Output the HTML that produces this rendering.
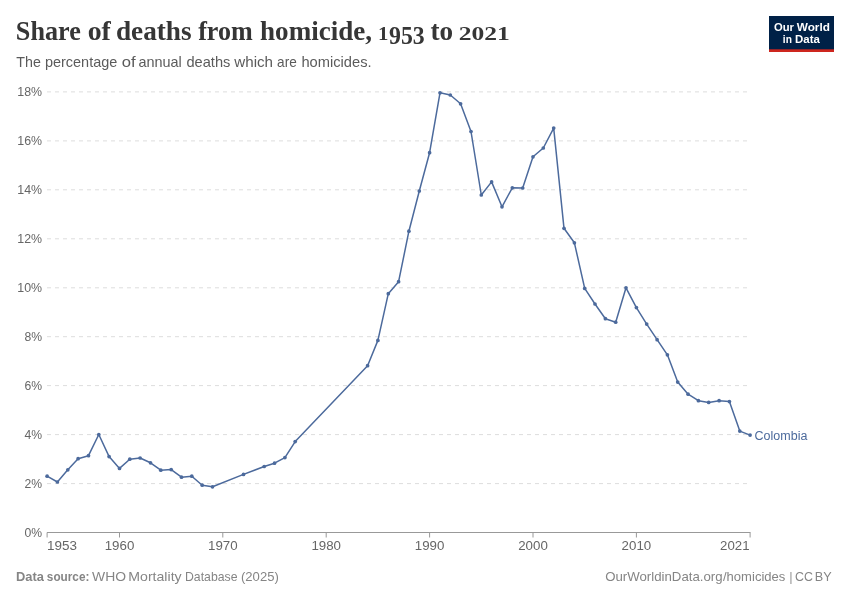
<!DOCTYPE html>
<html><head><meta charset="utf-8"><title>Share of deaths from homicide, 1953 to 2021</title>
<style>
html,body{margin:0;padding:0;background:#fff;}
body{width:850px;height:600px;overflow:hidden;}
svg{display:block;}
text{font-family:"Liberation Sans",sans-serif;}
.title{font-family:"Liberation Serif",serif;font-weight:bold;}
.b{font-weight:bold;}
.ax{fill:#666;font-size:13.4px;}
.logo{fill:#fff;font-weight:bold;font-size:12px;}
</style></head><body>
<svg width="850" height="600" viewBox="0 0 850 600">
<rect width="850" height="600" fill="#fff"/>
<text fill="#363636"><tspan class="title" x="15.85" y="40" font-size="27.5" textLength="64.94" lengthAdjust="spacingAndGlyphs">Share</tspan> <tspan class="title" x="87.68" y="40" font-size="27.5" textLength="23.16" lengthAdjust="spacingAndGlyphs">of</tspan> <tspan class="title" x="115.88" y="40" font-size="27.5" textLength="75.75" lengthAdjust="spacingAndGlyphs">deaths</tspan> <tspan class="title" x="198.15" y="40" font-size="27.5" textLength="54.54" lengthAdjust="spacingAndGlyphs">from</tspan> <tspan class="title" x="260.07" y="40" font-size="27.5" textLength="112.05" lengthAdjust="spacingAndGlyphs">homicide,</tspan> <tspan class="title" x="378.06" y="40" font-size="18.2" textLength="10.43" lengthAdjust="spacingAndGlyphs">1</tspan><tspan class="title" x="389.06" y="44" font-size="26" textLength="35.70" lengthAdjust="spacingAndGlyphs">953</tspan> <tspan class="title" x="430.55" y="40" font-size="27.5" textLength="22.64" lengthAdjust="spacingAndGlyphs">to</tspan> <tspan class="title" x="458.75" y="40" font-size="18.2" textLength="51.08" lengthAdjust="spacingAndGlyphs">2021</tspan></text>
<text fill="#5b5b5b"><tspan x="16.36" y="67" font-size="15" textLength="24.58" lengthAdjust="spacingAndGlyphs">The</tspan> <tspan x="44.88" y="67" font-size="15" textLength="72.44" lengthAdjust="spacingAndGlyphs">percentage</tspan> <tspan x="121.75" y="67" font-size="15" textLength="13.87" lengthAdjust="spacingAndGlyphs">of</tspan> <tspan x="138.45" y="67" font-size="15" textLength="43.39" lengthAdjust="spacingAndGlyphs">annual</tspan> <tspan x="186.47" y="67" font-size="15" textLength="43.91" lengthAdjust="spacingAndGlyphs">deaths</tspan> <tspan x="234.25" y="67" font-size="15" textLength="38.76" lengthAdjust="spacingAndGlyphs">which</tspan> <tspan x="277.12" y="67" font-size="15" textLength="19.70" lengthAdjust="spacingAndGlyphs">are</tspan> <tspan x="301.45" y="67" font-size="15" textLength="70.15" lengthAdjust="spacingAndGlyphs">homicides.</tspan></text>
<g><rect x="769" y="16" width="65" height="36" fill="#002147"/><rect x="769" y="49.3" width="65" height="2.7" fill="#ce261e"/><text fill="#fff"><tspan class="b" x="774.00" y="31" font-size="11.7" textLength="20.00" lengthAdjust="spacingAndGlyphs">Our</tspan> <tspan class="b" x="796.77" y="31" font-size="11.7" textLength="33.12" lengthAdjust="spacingAndGlyphs">World</tspan></text>
<text fill="#fff"><tspan class="b" x="782.82" y="43" font-size="11.7" textLength="9.05" lengthAdjust="spacingAndGlyphs">in</tspan> <tspan class="b" x="795.00" y="43" font-size="11.7" textLength="24.84" lengthAdjust="spacingAndGlyphs">Data</tspan></text>
</g>
<g stroke="#ddd" stroke-width="1" stroke-dasharray="4,4" fill="none"><line x1="47" y1="483.6" x2="750" y2="483.6"/><line x1="47" y1="434.6" x2="750" y2="434.6"/><line x1="47" y1="385.6" x2="750" y2="385.6"/><line x1="47" y1="336.7" x2="750" y2="336.7"/><line x1="47" y1="287.8" x2="750" y2="287.8"/><line x1="47" y1="238.8" x2="750" y2="238.8"/><line x1="47" y1="189.8" x2="750" y2="189.8"/><line x1="47" y1="140.9" x2="750" y2="140.9"/><line x1="47" y1="91.9" x2="750" y2="91.9"/></g>
<g class="ax" text-anchor="end"><text x="42.1" y="537" textLength="17.6" lengthAdjust="spacingAndGlyphs">0%</text><text x="42.1" y="488" textLength="17.6" lengthAdjust="spacingAndGlyphs">2%</text><text x="42.1" y="439" textLength="17.6" lengthAdjust="spacingAndGlyphs">4%</text><text x="42.1" y="390" textLength="17.6" lengthAdjust="spacingAndGlyphs">6%</text><text x="42.1" y="341" textLength="17.6" lengthAdjust="spacingAndGlyphs">8%</text><text x="42.1" y="292" textLength="24.8" lengthAdjust="spacingAndGlyphs">10%</text><text x="42.1" y="243" textLength="24.8" lengthAdjust="spacingAndGlyphs">12%</text><text x="42.1" y="194" textLength="24.8" lengthAdjust="spacingAndGlyphs">14%</text><text x="42.1" y="145" textLength="24.8" lengthAdjust="spacingAndGlyphs">16%</text><text x="42.1" y="96" textLength="24.8" lengthAdjust="spacingAndGlyphs">18%</text></g>
<g stroke="#999" stroke-width="1" fill="none"><line x1="47" y1="532.5" x2="750.5" y2="532.5"/><line x1="47.1" y1="532.5" x2="47.1" y2="537.5"/><line x1="119.5" y1="532.5" x2="119.5" y2="537.5"/><line x1="222.8" y1="532.5" x2="222.8" y2="537.5"/><line x1="326.2" y1="532.5" x2="326.2" y2="537.5"/><line x1="429.6" y1="532.5" x2="429.6" y2="537.5"/><line x1="533.0" y1="532.5" x2="533.0" y2="537.5"/><line x1="636.4" y1="532.5" x2="636.4" y2="537.5"/><line x1="750.1" y1="532.5" x2="750.1" y2="537.5"/></g>
<g class="ax" text-anchor="middle"><text x="119.5" y="550" textLength="29.6" lengthAdjust="spacingAndGlyphs">1960</text><text x="222.8" y="550" textLength="29.6" lengthAdjust="spacingAndGlyphs">1970</text><text x="326.2" y="550" textLength="29.6" lengthAdjust="spacingAndGlyphs">1980</text><text x="429.6" y="550" textLength="29.6" lengthAdjust="spacingAndGlyphs">1990</text><text x="533.0" y="550" textLength="29.6" lengthAdjust="spacingAndGlyphs">2000</text><text x="636.4" y="550" textLength="29.6" lengthAdjust="spacingAndGlyphs">2010</text></g><text fill="#666"><tspan x="46.94" y="550" font-size="13.4" textLength="29.97" lengthAdjust="spacingAndGlyphs">1953</tspan></text>
<text fill="#666"><tspan x="720.08" y="550" font-size="13.4" textLength="29.42" lengthAdjust="spacingAndGlyphs">2021</tspan></text>
<path d="M47.1,476.2 L57.4,482.0 L67.8,469.8 L78.1,458.7 L88.5,455.7 L98.8,434.5 L109.1,456.6 L119.5,468.4 L129.8,459.2 L140.1,458.0 L150.5,462.8 L160.8,470.2 L171.2,469.6 L181.5,477.2 L191.8,476.2 L202.2,485.2 L212.5,486.8 L243.5,474.4 L264.2,466.5 L274.5,463.2 L284.9,457.6 L295.2,441.6 L367.6,365.7 L377.9,340.4 L388.3,293.7 L398.6,281.7 L408.9,231.2 L419.3,191.0 L429.6,152.7 L440.0,92.8 L450.3,95.0 L460.6,103.8 L471.0,131.5 L481.3,195.0 L491.6,181.9 L502.0,206.8 L512.3,187.8 L522.7,188.0 L533.0,156.8 L543.3,148.0 L553.7,128.1 L564.0,228.3 L574.4,242.8 L584.7,288.4 L595.0,304.0 L605.4,318.7 L615.7,322.2 L626.0,287.8 L636.4,307.6 L646.7,324.1 L657.1,339.7 L667.4,354.8 L677.7,382.1 L688.1,394.2 L698.4,400.7 L708.7,402.4 L719.1,400.7 L729.4,401.6 L739.8,431.1 L750.1,435.1" fill="none" stroke="#4c6a9c" stroke-width="1.5" stroke-linejoin="round" stroke-linecap="round"/>
<g fill="#4c6a9c"><circle cx="47.1" cy="476.2" r="1.85"/><circle cx="57.4" cy="482.0" r="1.85"/><circle cx="67.8" cy="469.8" r="1.85"/><circle cx="78.1" cy="458.7" r="1.85"/><circle cx="88.5" cy="455.7" r="1.85"/><circle cx="98.8" cy="434.5" r="1.85"/><circle cx="109.1" cy="456.6" r="1.85"/><circle cx="119.5" cy="468.4" r="1.85"/><circle cx="129.8" cy="459.2" r="1.85"/><circle cx="140.1" cy="458.0" r="1.85"/><circle cx="150.5" cy="462.8" r="1.85"/><circle cx="160.8" cy="470.2" r="1.85"/><circle cx="171.2" cy="469.6" r="1.85"/><circle cx="181.5" cy="477.2" r="1.85"/><circle cx="191.8" cy="476.2" r="1.85"/><circle cx="202.2" cy="485.2" r="1.85"/><circle cx="212.5" cy="486.8" r="1.85"/><circle cx="243.5" cy="474.4" r="1.85"/><circle cx="264.2" cy="466.5" r="1.85"/><circle cx="274.5" cy="463.2" r="1.85"/><circle cx="284.9" cy="457.6" r="1.85"/><circle cx="295.2" cy="441.6" r="1.85"/><circle cx="367.6" cy="365.7" r="1.85"/><circle cx="377.9" cy="340.4" r="1.85"/><circle cx="388.3" cy="293.7" r="1.85"/><circle cx="398.6" cy="281.7" r="1.85"/><circle cx="408.9" cy="231.2" r="1.85"/><circle cx="419.3" cy="191.0" r="1.85"/><circle cx="429.6" cy="152.7" r="1.85"/><circle cx="440.0" cy="92.8" r="1.85"/><circle cx="450.3" cy="95.0" r="1.85"/><circle cx="460.6" cy="103.8" r="1.85"/><circle cx="471.0" cy="131.5" r="1.85"/><circle cx="481.3" cy="195.0" r="1.85"/><circle cx="491.6" cy="181.9" r="1.85"/><circle cx="502.0" cy="206.8" r="1.85"/><circle cx="512.3" cy="187.8" r="1.85"/><circle cx="522.7" cy="188.0" r="1.85"/><circle cx="533.0" cy="156.8" r="1.85"/><circle cx="543.3" cy="148.0" r="1.85"/><circle cx="553.7" cy="128.1" r="1.85"/><circle cx="564.0" cy="228.3" r="1.85"/><circle cx="574.4" cy="242.8" r="1.85"/><circle cx="584.7" cy="288.4" r="1.85"/><circle cx="595.0" cy="304.0" r="1.85"/><circle cx="605.4" cy="318.7" r="1.85"/><circle cx="615.7" cy="322.2" r="1.85"/><circle cx="626.0" cy="287.8" r="1.85"/><circle cx="636.4" cy="307.6" r="1.85"/><circle cx="646.7" cy="324.1" r="1.85"/><circle cx="657.1" cy="339.7" r="1.85"/><circle cx="667.4" cy="354.8" r="1.85"/><circle cx="677.7" cy="382.1" r="1.85"/><circle cx="688.1" cy="394.2" r="1.85"/><circle cx="698.4" cy="400.7" r="1.85"/><circle cx="708.7" cy="402.4" r="1.85"/><circle cx="719.1" cy="400.7" r="1.85"/><circle cx="729.4" cy="401.6" r="1.85"/><circle cx="739.8" cy="431.1" r="1.85"/><circle cx="750.1" cy="435.1" r="1.85"/></g>
<text x="754.6" y="440" font-size="13.7" fill="#4c6a9c" textLength="52.8" lengthAdjust="spacingAndGlyphs">Colombia</text>
<text fill="#858585"><tspan class="b" x="16.08" y="581" font-size="12.4" textLength="27.90" lengthAdjust="spacingAndGlyphs">Data</tspan> <tspan class="b" x="46.85" y="581" font-size="12.4" textLength="42.55" lengthAdjust="spacingAndGlyphs">source:</tspan> <tspan x="92.08" y="581" font-size="12.4" textLength="33.94" lengthAdjust="spacingAndGlyphs">WHO</tspan> <tspan x="128.35" y="581" font-size="12.4" textLength="53.27" lengthAdjust="spacingAndGlyphs">Mortality</tspan> <tspan x="185.01" y="581" font-size="12.4" textLength="52.49" lengthAdjust="spacingAndGlyphs">Database</tspan> <tspan x="241.00" y="581" font-size="12.4" textLength="37.77" lengthAdjust="spacingAndGlyphs">(2025)</tspan></text>
<text fill="#858585"><tspan x="605.16" y="581" font-size="12.4" textLength="117.44" lengthAdjust="spacingAndGlyphs">OurWorldinData.org</tspan><tspan x="723.00" y="581" font-size="12.4" textLength="62.32" lengthAdjust="spacingAndGlyphs">/homicides</tspan> <tspan x="789.50" y="581" font-size="12.4" textLength="2.89" lengthAdjust="spacingAndGlyphs">|</tspan> <tspan x="795.09" y="581" font-size="12.4" textLength="17.91" lengthAdjust="spacingAndGlyphs">CC</tspan> <tspan x="814.88" y="581" font-size="12.4" textLength="16.89" lengthAdjust="spacingAndGlyphs">BY</tspan></text>
</svg></body></html>
